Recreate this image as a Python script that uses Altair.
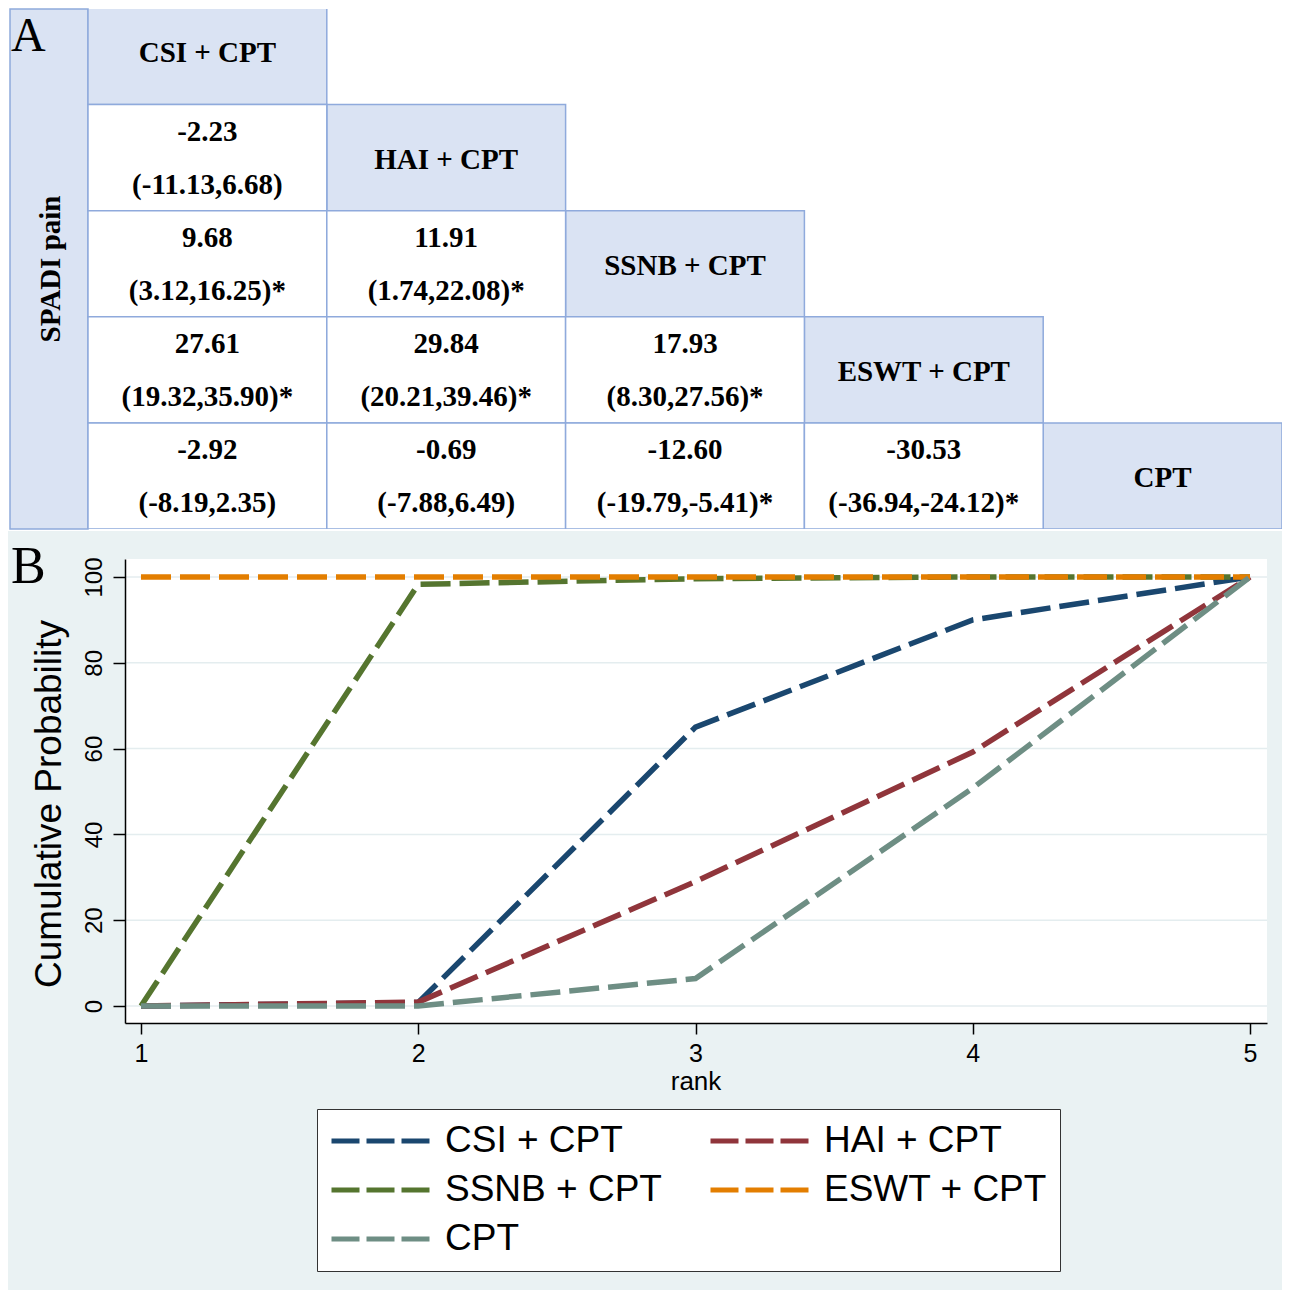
import altair as alt
import pandas as pd

# ---------------- data ----------------
treatments = ["CSI + CPT", "HAI + CPT", "SSNB + CPT", "ESWT + CPT", "CPT"]
line_colors = ["#1a476f", "#90353b", "#55752f", "#e37e00", "#6e8e84"]
# legend reading order (two columns, filled column by column)
legend_order = ["CSI + CPT", "SSNB + CPT", "CPT", "HAI + CPT", "ESWT + CPT"]

# league table (lower triangle): row treatment vs column treatment
pair_row = [1, 2, 2, 3, 3, 3, 4, 4, 4, 4]
pair_col = [0, 0, 1, 0, 1, 2, 0, 1, 2, 3]
est = [-2.23, 9.68, 11.91, 27.61, 29.84, 17.93, -2.92, -0.69, -12.60, -30.53]
ci_lo = [-11.13, 3.12, 1.74, 19.32, 20.21, 8.30, -8.19, -7.88, -19.79, -36.94]
ci_hi = [6.68, 16.25, 22.08, 35.90, 39.46, 27.56, 2.35, 6.49, -5.41, -24.12]

# cumulative ranking probabilities (SUCRA curves)
ranks = [1, 2, 3, 4, 5]
prob_csi = [0, 0.8, 65.0, 90.0, 100]
prob_hai = [0, 0.9, 29.0, 59.2, 100]
prob_ssnb = [0, 98.3, 99.6, 100, 100]
prob_eswt = [100, 100, 100, 100, 100]
prob_cpt = [0, 0, 6.4, 50.8, 100]
y_ticks = [0, 20, 40, 60, 80, 100]

# ---------------- layout constants ----------------
W = 1274
HA = 520
HB = 759
GAP = 2
SERIF = "Liberation Serif"
SANS = "Liberation Sans"
HEAD_FILL = "#dae3f3"
BORDER = "#8faadc"

# ---------------- panel A: league table ----------------
cells = []
for i, t in enumerate(treatments):
    cells.append({"r": i, "c": i, "kind": "header", "label": t, "est": "", "ci": ""})
for r, c, e, lo, hi in zip(pair_row, pair_col, est, ci_lo, ci_hi):
    star = "*" if (lo > 0 or hi < 0) else ""
    cells.append({"r": r, "c": c, "kind": "value", "label": "",
                  "est": f"{e:.2f}", "ci": f"({lo:.2f},{hi:.2f}){star}"})
cells_df = pd.DataFrame(cells)
cells_df["r1"] = cells_df["r"] + 1
cells_df["c1"] = cells_df["c"] + 1
cells_df["rm"] = cells_df["r"] + 0.5
cells_df["cm"] = cells_df["c"] + 0.5

xa = alt.Scale(domain=[0, 5], range=[80, W], nice=False, zero=False)
ya = alt.Scale(domain=[0.1, 5], range=[0, HA], nice=False, zero=False)

one = pd.DataFrame({"k": [0]})

side_bg = alt.Chart(one).mark_rect(fill=HEAD_FILL, stroke=BORDER, strokeWidth=1.5).encode(
    x=alt.value(2), x2=alt.value(80), y=alt.value(0), y2=alt.value(HA)
)
side_label = alt.Chart(one).mark_text(
    text="SPADI pain", font=SERIF, fontWeight="bold", fontSize=29, angle=270,
    align="center", baseline="middle", color="black"
).encode(x=alt.value(43), y=alt.value(260))
label_a = alt.Chart(one).mark_text(
    text="A", font=SERIF, fontSize=48, align="left", baseline="alphabetic", color="black"
).encode(x=alt.value(3), y=alt.value(42))

cell_rects = alt.Chart(cells_df).mark_rect(stroke=BORDER, strokeWidth=1.5, clip=True).encode(
    x=alt.X("c:Q", scale=xa, axis=None),
    x2="c1:Q",
    y=alt.Y("r:Q", scale=ya, axis=None),
    y2="r1:Q",
    fill=alt.Fill("kind:N", scale=alt.Scale(domain=["header", "value"], range=[HEAD_FILL, "white"]), legend=None),
)
base_txt = alt.Chart(cells_df)
head_txt = base_txt.transform_filter(alt.datum.kind == "header").mark_text(
    font=SERIF, fontWeight="bold", fontSize=29, color="black", baseline="middle", dy=2
).encode(x=alt.X("cm:Q", scale=xa, axis=None), y=alt.Y("rm:Q", scale=ya, axis=None), text="label:N")
est_txt = base_txt.transform_filter(alt.datum.kind == "value").mark_text(
    font=SERIF, fontWeight="bold", fontSize=29, color="black", baseline="middle", dy=-26
).encode(x=alt.X("cm:Q", scale=xa, axis=None), y=alt.Y("rm:Q", scale=ya, axis=None), text="est:N")
ci_txt = base_txt.transform_filter(alt.datum.kind == "value").mark_text(
    font=SERIF, fontWeight="bold", fontSize=29, color="black", baseline="middle", dy=27
).encode(x=alt.X("cm:Q", scale=xa, axis=None), y=alt.Y("rm:Q", scale=ya, axis=None), text="ci:N")

panel_a = alt.layer(side_bg, cell_rects, head_txt, est_txt, ci_txt, side_label, label_a).properties(
    width=W, height=HA, view=alt.ViewBackground(fill="white", stroke=None)
)

# ---------------- panel B: cumulative ranking plot ----------------
series = [prob_csi, prob_hai, prob_ssnb, prob_eswt, prob_cpt]
rows = []
for name, vals in zip(treatments, series):
    for rk, v in zip(ranks, vals):
        rows.append({"rank": rk, "prob": v, "treatment": name})
lines_df = pd.DataFrame(rows)
grid_df = pd.DataFrame({"v": y_ticks})
color_of = dict(zip(treatments, line_colors))

PL, PR, PT, PB = 117, 1259, 28, 492  # inner plot region (pixels)
xb = alt.Scale(domain=[0.9423, 5.0613], range=[PL, PR], nice=False, zero=False)
yb = alt.Scale(domain=[-3.963, 104.196], range=[PB, PT], nice=False, zero=False)

x_axis = alt.Axis(values=ranks, format="d", orient="bottom", offset=-(HB - PB), tickSize=11,
                  labelFontSize=25, labelFont=SANS, labelColor="black", domainColor="black",
                  tickColor="black", domainWidth=1.5, tickWidth=1.5, grid=False, title=None,
                  zindex=1, labelPadding=7)
y_axis = alt.Axis(values=y_ticks, orient="left", offset=-PL, tickSize=12, labelAngle=270,
                  labelAlign="center", labelBaseline="bottom", labelPadding=7,
                  labelFontSize=24, labelFont=SANS, labelColor="black", domainColor="black",
                  tickColor="black", domainWidth=1.5, tickWidth=1.5, grid=False, title=None,
                  zindex=1)

plot_bg = alt.Chart(one).mark_rect(fill="white").encode(
    x=alt.value(PL), x2=alt.value(PR), y=alt.value(PT), y2=alt.value(PB)
)
grid = alt.Chart(grid_df).mark_rule(color="#e4edef", strokeWidth=1.5).encode(
    y=alt.Y("v:Q", scale=yb, axis=y_axis), x=alt.value(PL), x2=alt.value(PR)
)
lines = alt.Chart(lines_df).mark_line(strokeDash=[30, 9], strokeWidth=5.5, strokeCap="butt").encode(
    x=alt.X("rank:Q", scale=xb, axis=x_axis),
    y=alt.Y("prob:Q", scale=yb, axis=y_axis),
    color=alt.Color(
        "treatment:N",
        scale=alt.Scale(domain=legend_order, range=[color_of[t] for t in legend_order]),
        sort=legend_order,
        legend=alt.Legend(
            title=None, orient="none", legendX=309, legendY=578 + HA + GAP, columns=2,
            symbolType="stroke", symbolSize=9604, symbolStrokeWidth=5, symbolDash=[28, 7],
            labelFont=SANS, labelFontSize=37, labelColor="black", labelOffset=13,
            clipHeight=40, rowPadding=9, columnPadding=46, padding=12,
            strokeColor="#333333", fillColor="white", labelLimit=400,
        ),
    ),
)
y_title = alt.Chart(one).mark_text(
    text="Cumulative Probability", font=SANS, fontSize=37, angle=270,
    align="center", baseline="middle", color="black"
).encode(x=alt.value(42), y=alt.value(273))
x_title = alt.Chart(one).mark_text(
    text="rank", font=SANS, fontSize=26, align="center", baseline="middle", color="black"
).encode(x=alt.value(688), y=alt.value(551))
label_b = alt.Chart(one).mark_text(
    text="B", font=SERIF, fontSize=52, align="left", baseline="alphabetic", color="black"
).encode(x=alt.value(3), y=alt.value(52))

panel_b = alt.layer(plot_bg, grid, lines, y_title, x_title, label_b).properties(
    width=W, height=HB, view=alt.ViewBackground(fill="#eaf2f3", stroke=None)
)

chart = alt.vconcat(panel_a, panel_b, spacing=GAP, bounds="flush", padding=0,
                    background="white").configure_view(stroke=None)

chart.save("out.html", embed_options={"renderer": "svg", "actions": False})
